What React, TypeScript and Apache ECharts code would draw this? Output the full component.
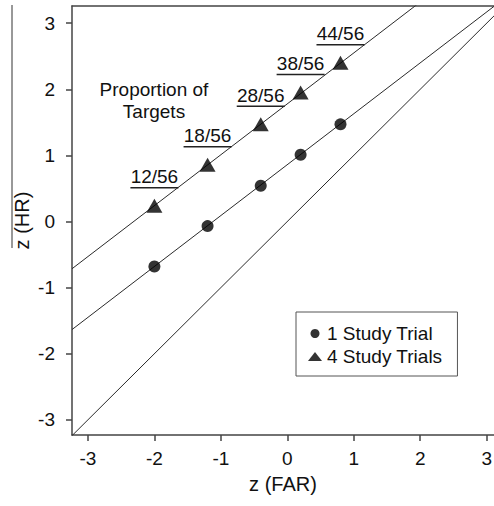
import React, { useEffect, useRef } from "react";
import * as echarts from "echarts";

const xTicks = [-3, -2, -1, 0, 1, 2, 3];
const yTicks = [-3, -2, -1, 0, 1, 2, 3];
const xExtent = [-3.24, 3.11];
const yExtent = [-3.23, 3.26];

const farValues = [-2, -1.2, -0.4, 0.2, 0.8];
const oneTrialHR = [-0.68, -0.07, 0.54, 1.01, 1.47];
const fourTrialsHR = [0.24, 0.86, 1.47, 1.95, 2.4];
const proportionLabels = ["12/56", "18/56", "28/56", "38/56", "44/56"];

const chanceLine = [[-3.24, -3.24], [3.3, 3.3]];
const oneTrialFit = [[-3.24, -1.635], [3.2, 3.324]];
const fourTrialsFit = [[-3.24, -0.715], [2.0, 3.32]];

const FONT = "'Liberation Sans', Arial, Helvetica, sans-serif";
const INK = "#111";
const LINE = "#2a2a2a";
const AXIS = "#444";

export default function App() {
  const ref = useRef<HTMLDivElement>(null);
  useEffect(() => {
    if (!ref.current) return;
    const chart = echarts.init(ref.current, null, { renderer: "svg" });
    const oneData = farValues.map((x, i) => [x, oneTrialHR[i]]);
    const fourData = farValues.map((x, i) => [x, fourTrialsHR[i]]);
    const fitLine = (data: number[][]) => ({
      type: "line",
      data,
      symbol: "none",
      silent: true,
      lineStyle: { color: LINE, width: 1 },
      clip: true,
    });
    const option: any = {
      animation: false,
      textStyle: { fontFamily: FONT, color: INK },
      grid: { left: 72, top: 6, right: 0, bottom: 71, outerBoundsMode: "none" },
      xAxis: [
        {
          type: "value",
          min: xExtent[0],
          max: xExtent[1],
          name: "z (FAR)",
          nameLocation: "middle",
          nameGap: 39,
          nameMoveOverlap: false,
          nameTextStyle: { fontSize: 20, color: INK, fontFamily: FONT },
          axisLine: { show: true, onZero: false, lineStyle: { color: AXIS, width: 1.5 } },
          axisTick: { show: true, inside: false, length: 6, customValues: xTicks, lineStyle: { color: AXIS, width: 1.5 } },
          axisLabel: { customValues: xTicks, margin: 14, fontSize: 19, color: INK, fontFamily: FONT },
          splitLine: { show: false },
        },
        {
          type: "value",
          position: "top",
          min: xExtent[0],
          max: xExtent[1],
          axisLine: { show: true, onZero: false, lineStyle: { color: AXIS, width: 1.5 } },
          axisTick: { show: false },
          axisLabel: { show: false },
          splitLine: { show: false },
        },
      ],
      yAxis: {
        type: "value",
        min: yExtent[0],
        max: yExtent[1],
        name: "z (HR)",
        nameLocation: "middle",
        nameGap: 40,
        nameMoveOverlap: false,
        nameRotate: 90,
        nameTextStyle: { fontSize: 20, color: INK, fontFamily: FONT },
        axisLine: { show: true, onZero: false, lineStyle: { color: AXIS, width: 1.5 } },
        axisTick: { show: true, inside: false, length: 6, customValues: yTicks, lineStyle: { color: AXIS, width: 1.5 } },
        axisLabel: { customValues: yTicks, margin: 17, fontSize: 19, color: INK, fontFamily: FONT },
        splitLine: { show: false },
      },
      legend: {
        orient: "vertical",
        left: 296,
        top: 312,
        padding: [12, 15, 10, 12],
        itemWidth: 14,
        itemHeight: 9,
        itemGap: 4,
        borderColor: "#555",
        borderWidth: 1,
        backgroundColor: "#fff",
        textStyle: { fontSize: 19, color: INK, fontFamily: FONT },
        data: [
          { name: "1 Study Trial", icon: "circle" },
          { name: "4 Study Trials", icon: "triangle" },
        ],
      },
      graphic: [
        {
          type: "text",
          style: {
            text: "Proportion of\nTargets",
            x: 154,
            y: 100,
            font: `19px ${FONT}`,
            fill: INK,
            align: "center",
            verticalAlign: "middle",
            lineHeight: 22,
          },
        },
        {
          type: "line",
          shape: { x1: 12, y1: 5, x2: 12, y2: 248 },
          style: { stroke: "#333", lineWidth: 1 },
        },
      ],
      series: [
        fitLine(chanceLine),
        fitLine(oneTrialFit),
        fitLine(fourTrialsFit),
        {
          name: "1 Study Trial",
          type: "scatter",
          data: oneData,
          symbol: "circle",
          symbolSize: 12,
          itemStyle: { color: "#000" },
          z: 5,
        },
        {
          name: "4 Study Trials",
          type: "scatter",
          data: fourData,
          symbol: "triangle",
          symbolSize: [16, 14],
          itemStyle: { color: "#000" },
          z: 5,
        },
        {
          type: "custom",
          data: fourData,
          silent: true,
          z: 6,
          renderItem: (params: any, api: any) => {
            const pt = api.coord([api.value(0), api.value(1)]);
            const cx = pt[0];
            const cy = pt[1] - 29;
            return {
              type: "group",
              children: [
                {
                  type: "text",
                  style: {
                    text: proportionLabels[params.dataIndex],
                    x: cx,
                    y: cy,
                    align: "center",
                    verticalAlign: "middle",
                    font: `19px ${FONT}`,
                    fill: INK,
                  },
                },
                {
                  type: "line",
                  shape: { x1: cx - 24, y1: cy + 11, x2: cx + 24, y2: cy + 11 },
                  style: { stroke: "#222", lineWidth: 1.5 },
                },
              ],
            };
          },
        },
      ],
    };
    chart.setOption(option);
    return () => chart.dispose();
  }, []);
  return (
    <div
      ref={ref}
      style={{ position: "fixed", left: 0, top: 0, width: 494, height: 506, background: "#fff" }}
    />
  );
}
